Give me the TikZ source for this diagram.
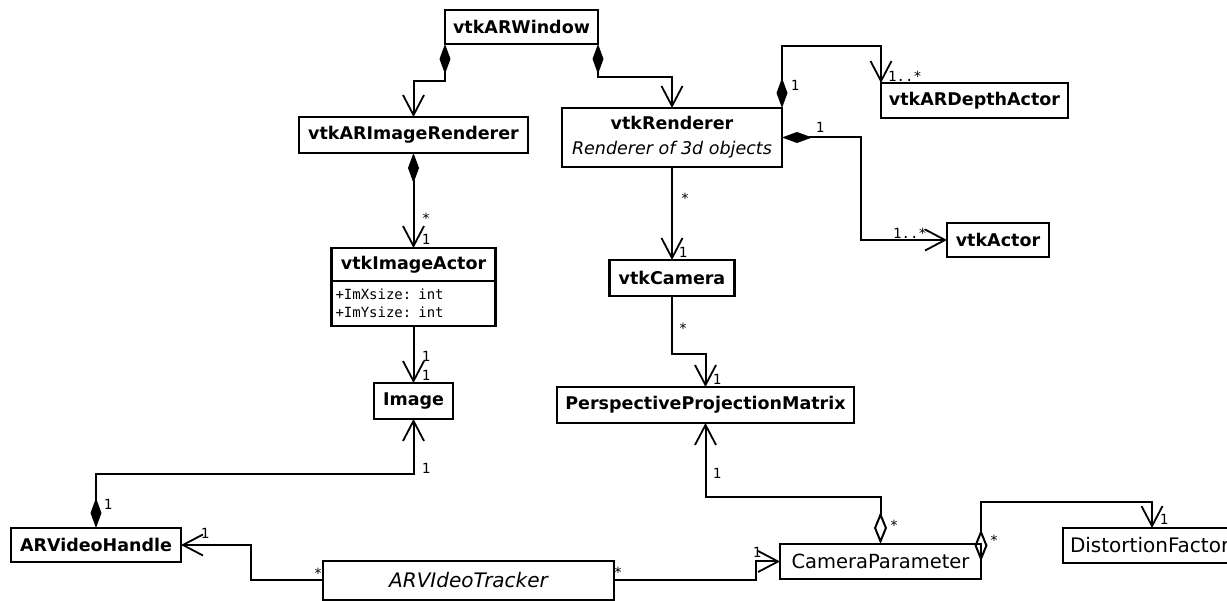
\documentclass[tikz,border=0pt]{standalone}
\usepackage{fontspec}
\setmainfont{DejaVu Sans}
\newfontfamily\umlmono{DejaVu Sans Mono}
\usepackage{tikz}
\usetikzlibrary{arrows.meta,positioning,calc}

\begin{document}
\begin{tikzpicture}[
  x=1pt,y=1pt,
  >={Straight Barb[length=20pt,width=21pt,line width=1.8pt]},
  cls/.style={draw,line width=2.5pt,inner sep=0pt,outer sep=0pt,align=center,font=\fontsize{17.5}{21}\selectfont\bfseries},
  lightcls/.style={cls,font=\fontsize{19.5}{23}\selectfont},
  attr/.style={draw,line width=2.5pt,inner sep=0pt,inner xsep=4pt,outer sep=0pt,text width=156pt,align=left,font=\umlmono\fontsize{14}{18}\selectfont},
  mult/.style={inner sep=0pt,font=\umlmono\fontsize{14}{16}\selectfont},
  assoc/.style={line width=2pt,->},
  comp/.style={line width=2pt,{Diamond[length=30pt,width=11pt]}->},
  aggr/.style={line width=2pt,{Diamond[open,length=32pt,width=13pt]}->}
]
  \useasboundingbox (0,0) rectangle (1227,601);
  \node[cls,minimum width=153pt,minimum height=34pt] (win) at (521.5,574) {vtkARWindow};
  \node[cls,minimum width=229pt,minimum height=36pt] (imgren) at (413.5,466) {vtkARImageRenderer};
  \node[cls,minimum width=220pt,minimum height=59pt,font=\fontsize{17.5}{25}\selectfont\bfseries] (ren) at (672,463.5) {vtkRenderer\\{\mdseries\itshape Renderer of 3d objects}};
  \node[cls,minimum width=187pt,minimum height=35pt] (depth) at (974.5,500.5) {vtkARDepthActor};
  \node[cls,minimum width=102pt,minimum height=34pt] (actor) at (998,361) {vtkActor};
  \node[cls,minimum width=164pt,minimum height=33pt] (imgactor) at (413.5,336.5) {vtkImageActor};
  \node[attr,minimum height=45pt,below=0pt of imgactor] (imgattr) {+ImXsize: int\\+ImYsize: int};
  \node[cls,minimum width=125pt,minimum height=36pt] (cam) at (672,323) {vtkCamera};
  \node[cls,minimum width=79pt,minimum height=36pt] (image) at (413.5,200) {Image};
  \node[cls,minimum width=297pt,minimum height=36pt] (ppm) at (705.5,196) {PerspectiveProjectionMatrix};
  \node[cls,minimum width=170pt,minimum height=34pt] (handle) at (96,56) {ARVideoHandle};
  \node[lightcls,minimum width=291pt,minimum height=39pt,font=\fontsize{20}{24}\selectfont\itshape] (tracker) at (468.5,20.5) {ARVIdeoTracker};
  \node[lightcls,minimum width=201pt,minimum height=35pt] (campar) at (880.5,39.5) {CameraParameter};
  \node[lightcls,text width=164pt,inner xsep=7pt,align=left,minimum height=35pt,font=\fontsize{20}{24}\selectfont] (dist) at (1152,55.5) {DistortionFactor};

  \draw[comp] (win.south west) -- ++(0,-37) -| (imgren.north);
  \draw[comp] (win.south east) -- ++(0,-33) -| (ren.north);
  \draw[comp] (imgren.south) -- (imgactor.north);
  \draw[comp] (ren.north east) -- ++(0,62) -| (depth.north west);
  \draw[comp] (ren.east) -- ++(79,0) |- (actor.west);
  \draw[assoc] (ren.south) -- (cam.north);
  \draw[assoc] (cam.south) -- ++(0,-58) -| (ppm.north);
  \draw[assoc] (imgattr.south) -- (image.north);
  \draw[comp] (handle.north) -- ++(0,54) -| (image.south);
  \draw[assoc] (tracker.west) -- ++(-72,0) |- (handle.east);
  \draw[assoc] (tracker.east) -- ++(142,0) |- (campar.west);
  \draw[aggr] (campar.north) -- ++(0,47) -| (ppm.south);
  \draw[aggr] (campar.east) -- ++(0,59) -| (dist.north);

  \node[mult] (ir-many) at (426,383) {*};
  \node[mult] (ia-one) at (426,362) {1};
  \node[mult] (rd-one) at (795,516) {1};
  \node[mult] (da-many) at (905,525) {1..*};
  \node[mult] (ra-one) at (820,474) {1};
  \node[mult] (ac-many) at (910,368) {1..*};
  \node[mult] (rc-many) at (685,403) {*};
  \node[mult] (rc-one) at (683,349) {1};
  \node[mult] (cp-many) at (683,273) {*};
  \node[mult] (cp-one) at (717,222) {1};
  \node[mult] (ai-one) at (426,245) {1};
  \node[mult] (ai-two) at (426,226) {1};
  \node[mult] (hi-one) at (108,97) {1};
  \node[mult] (hi-two) at (426,133) {1};
  \node[mult] (th-many) at (318,28) {*};
  \node[mult] (th-one) at (205,68) {1};
  \node[mult] (tc-many) at (618,29) {*};
  \node[mult] (tc-one) at (757,49) {1};
  \node[mult] (pm-many) at (894,76) {*};
  \node[mult] (pm-one) at (717,128) {1};
  \node[mult] (df-many) at (994,61) {*};
  \node[mult] (df-one) at (1164,82) {1};
\end{tikzpicture}
\end{document}
